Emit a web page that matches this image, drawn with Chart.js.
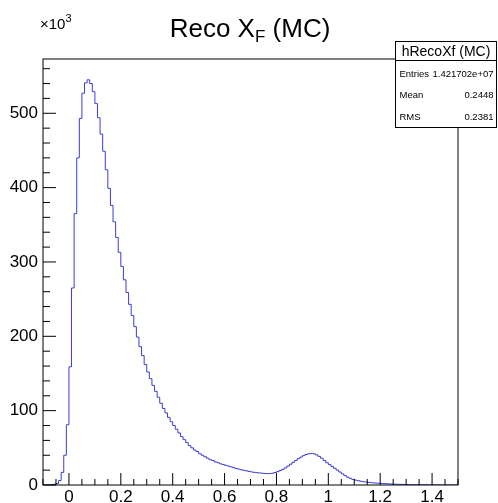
<!DOCTYPE html>
<html>
<head>
<meta charset="utf-8">
<script src="https://cdn.jsdelivr.net/npm/chart.js@4.4.0/dist/chart.umd.min.js"></script>
<style>
html, body { margin: 0; padding: 0; background: #fff; }
#wrap { width: 498px; height: 503px; }
</style>
</head>
<body>
<div id="wrap"><canvas id="histo" width="498" height="503"></canvas></div>
<script>
/*============ hRecoXf (MC) : 160 bins from -0.1 to 1.5, contents x10^3 ============*/
const xMin = -0.1, xMax = 1.5, nBins = 160;
const yMax = 573;

// bins -0.10 .. 0.09
const countsRise = [0, 0, 0, 0, 0.5, 1, 2, 6, 17, 40, 81, 159, 265, 365, 440, 493, 527, 541, 545, 540];
// bins 0.10 .. 0.49
const countsFall = [529, 513, 494, 472, 449, 424, 399, 376, 354, 333,
                    313, 294, 276, 259, 243, 228, 213, 199, 186, 174,
                    162, 152, 143, 134, 126, 118, 110, 103, 97, 91,
                    85, 80, 75, 70, 65, 61, 57, 53, 50, 47];
// bins 0.50 .. 0.99
const countsTail = [45, 42, 40, 38, 36, 34, 33, 31, 30, 28.5,
                    27.5, 26.5, 25.5, 24.5, 23.3, 22.3, 21.4, 20.5, 19.7, 19,
                    18.3, 17.6, 17, 16.6, 16.2, 15.9, 15.5, 15.3, 15.4, 15.8,
                    16.8, 18, 19.5, 21, 23, 25.5, 28, 30.5, 33, 35.5,
                    37.5, 39.5, 41, 42, 42.3, 42, 40.5, 38.5, 36, 33];
// bins 1.00 .. 1.49
const countsEnd = [30, 27.5, 25, 22.5, 20, 17.5, 15, 12.5, 10.5, 9,
                   7.6, 6.6, 5.8, 5.1, 4.5, 4, 3.6, 3.2, 2.9, 2.6,
                   2.3, 2.1, 1.9, 1.7, 1.5, 1.3, 1.1, 1, 0.9, 0.8,
                   0.7, 0.6, 0.5, 0.5, 0.4, 0.4, 0.3, 0.3, 0.3, 0.2,
                   0.2, 0.2, 0.15, 0.15, 0.1, 0.1, 0.1, 0.1, 0.05, 0.05];

const xTicks = [0, 0.2, 0.4, 0.6, 0.8, 1, 1.2, 1.4];
const yTicks = [0, 100, 200, 300, 400, 500];

const histTitle = 'hRecoXf (MC)';
const statNames = ['Entries', 'Mean', 'RMS'];
const statValues = ['1.421702e+07', '0.2448', '0.2381'];

const FONT = "'Liberation Sans', Arial, Helvetica, sans-serif";

// step outline: one point per bin low edge, last one closes the final bin
const counts = countsRise.concat(countsFall, countsTail, countsEnd);
const binW = (xMax - xMin) / nBins;
const points = counts.map((c, i) => ({ x: xMin + i * binW, y: c }));
points.push({ x: xMax, y: counts[counts.length - 1] });

//ROOT style frame, inside ticks, title and stats box
const rootPad = {
  id: 'rootPad',
  afterDraw(chart) {
    const ctx = chart.ctx;
    const ca = chart.chartArea;
    const xs = chart.scales.x, ys = chart.scales.y;
    ctx.save();
    ctx.strokeStyle = '#000';
    ctx.lineWidth = 1;
    ctx.strokeRect(ca.left, ca.top, ca.right - ca.left, ca.bottom - ca.top);

    ctx.beginPath();
    for (let v = 0; v <= yMax; v += 20) {
      const y = ys.getPixelForValue(v);
      const len = (v % 100 === 0) ? 13 : 7;
      ctx.moveTo(ca.left, y);
      ctx.lineTo(ca.left + len, y);
    }
    for (let k = -2; k <= 30; k++) {
      const v = k * 0.05;
      if (v < xMin - 1e-9 || v > xMax + 1e-9) continue;
      const x = xs.getPixelForValue(v);
      const len = (k % 4 === 0) ? 12 : 6;
      ctx.moveTo(x, ca.bottom);
      ctx.lineTo(x, ca.bottom - len);
    }
    ctx.stroke();

    // x10^3
    ctx.fillStyle = '#000';
    ctx.textBaseline = 'alphabetic';
    ctx.textAlign = 'left';
    ctx.font = '15px ' + FONT;
    ctx.fillText('\u00d710', 40, 29);
    const w10 = ctx.measureText('\u00d710').width;
    ctx.font = '11px ' + FONT;
    ctx.fillText('3', 40 + w10, 22);

    // title Reco X_F (MC)
    ctx.font = '26px ' + FONT;
    const a = 'Reco X', c = ' (MC)';
    const wa = ctx.measureText(a).width, wc = ctx.measureText(c).width;
    ctx.font = '17px ' + FONT;
    const wb = ctx.measureText('F').width;
    let tx = 250 - (wa + wb + wc) / 2;
    ctx.font = '26px ' + FONT;
    ctx.fillText(a, tx, 37);
    ctx.font = '17px ' + FONT;
    ctx.fillText('F', tx + wa, 42);
    ctx.font = '26px ' + FONT;
    ctx.fillText(c, tx + wa + wb, 37);

    // stats box
    const bx = 395.5, by = 41.5, bw = 101, bh = 86;
    ctx.fillStyle = '#fff';
    ctx.fillRect(bx, by, bw, bh);
    ctx.strokeRect(bx, by, bw, bh);
    ctx.beginPath();
    ctx.moveTo(bx, 60.5);
    ctx.lineTo(bx + bw, 60.5);
    ctx.stroke();
    ctx.fillStyle = '#000';
    ctx.font = '14px ' + FONT;
    ctx.textAlign = 'center';
    ctx.fillText(histTitle, bx + bw / 2, 56);
    ctx.font = '9.5px ' + FONT;
    const rowY = [77, 98, 120];
    statNames.forEach((n, i) => {
      ctx.textAlign = 'left';
      ctx.fillText(n, bx + 4, rowY[i]);
      ctx.textAlign = 'right';
      ctx.fillText(statValues[i], bx + bw - 3, rowY[i]);
    });
    ctx.restore();
  }
};

const ctx = document.getElementById('histo');

new Chart(ctx, {
  type: 'line',
  data: {
    datasets: [{
      label: histTitle,
      data: points,
      stepped: 'after',
      borderColor: 'rgb(60, 60, 210)',
      borderWidth: 1,
      pointRadius: 0,
      fill: false,
      tension: 0
    }]
  },
  options: {
    responsive: false,
    animation: false,
    events: [],
    layout: { padding: { top: 59, right: 40, left: 0, bottom: 0 } },
    plugins: { legend: { display: false }, tooltip: { enabled: false }, title: { display: false } },
    scales: {
      x: {
        type: 'linear',
        min: xMin,
        max: xMax,
        border: { display: false },
        grid: { display: false, drawTicks: false },
        afterBuildTicks: s => { s.ticks = xTicks.map(v => ({ value: v })); },
        afterFit: s => { s.height = 18; },
        ticks: {
          padding: 2,
          maxRotation: 0,
          autoSkip: false,
          color: '#000',
          font: { family: FONT, size: 17 },
          callback: v => String(Number(v.toFixed(2)))
        }
      },
      y: {
        min: 0,
        max: yMax,
        border: { display: false },
        grid: { display: false, drawTicks: false },
        afterBuildTicks: s => { s.ticks = yTicks.map(v => ({ value: v })); },
        afterFit: s => { s.width = 43; },
        ticks: {
          padding: 5,
          autoSkip: false,
          color: '#000',
          font: { family: FONT, size: 17 },
          callback: v => String(v)
        }
      }
    }
  },
  plugins: [rootPad]
});
</script>
</body>
</html>
